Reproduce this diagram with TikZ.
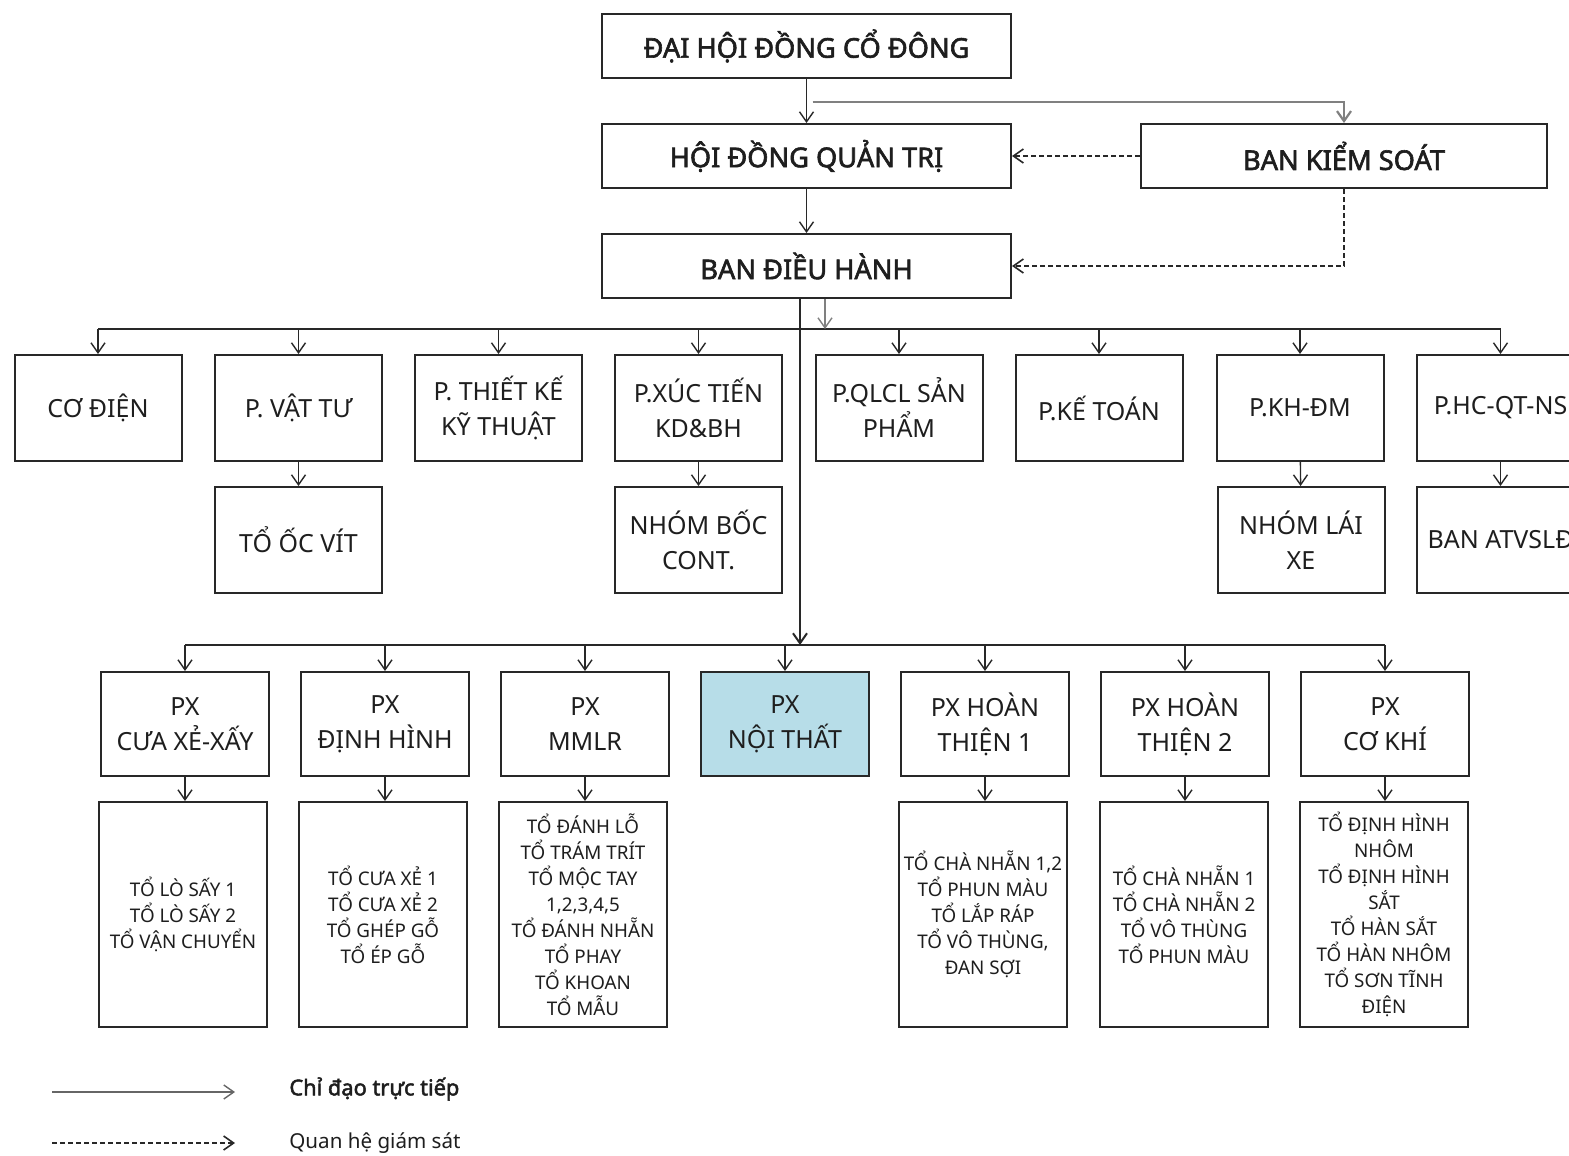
\documentclass[tikz,border=0pt]{standalone}
\usepackage{fontspec}
\setmainfont{Noto Sans}[BoldFont={Noto Sans}, BoldFeatures={FakeBold=2.2}]
\usetikzlibrary{arrows.meta}
\definecolor{ln}{RGB}{40,40,40}
\definecolor{nt}{RGB}{183,221,232}
\definecolor{tx}{RGB}{30,30,30}
\begin{document}
\begin{tikzpicture}[x=0.5pt,y=-0.5pt,
  box/.style={draw=ln, line width=1pt, align=center, inner sep=0pt, text=tx, font=\fontsize{12.5}{17.5}\selectfont},
  topbox/.style={box, minimum width=204.5pt, minimum height=32pt, font=\bfseries\fontsize{13.6}{17.5}\selectfont},
  dept/.style={box, minimum width=83.5pt, minimum height=53pt},
  pxbox/.style={box, minimum width=84pt, minimum height=52pt},
  team/.style={box, minimum width=84pt, minimum height=112.5pt, font=\fontsize{9.4}{13}\selectfont},
  arr/.style={draw=ln, line width=0.7pt, -{Straight Barb[length=5pt,width=7pt]}},
  sup/.style={draw=ln, line width=0.8pt, dash pattern=on 2.5pt off 1.5pt, -{Straight Barb[length=5pt,width=7pt]}},
  bus/.style={draw=ln, line width=1.3pt},
  legtext/.style={anchor=west, inner sep=0pt, text=tx, font=\fontsize{10.3}{13}\selectfont}
]
\clip (0,0) rectangle (1569,1156);
\fill[white] (0,0) rectangle (1569,1156);

% top level
\node[topbox] (dh) at (806.5,46) {ĐẠI HỘI ĐỒNG CỔ ĐÔNG};
\node[topbox] (hd) at (806.5,156) {HỘI ĐỒNG QUẢN TRỊ};
\node[topbox] (bdh) at (806.5,266) {BAN ĐIỀU HÀNH};
\node[topbox, minimum width=203pt] (bks) at (1344,156) {BAN KIỂM SOÁT};

\draw[arr] (dh) -- (hd);
\draw[arr] (hd) -- (bdh);
\draw[arr, draw=gray, line width=1.1pt] ([shift={(6,23)}]dh.south) -| (bks.north);
\draw[sup] (bks.west) -- (hd.east);
\draw[sup] (bks.south) |- (bdh.east);

% departments
\coordinate (bus1y) at (0,329);
\coordinate (bus2y) at (0,645);
\node[dept] (d1) at (98,408) {CƠ ĐIỆN};
\node[dept] (d2) at (298.5,408) {P. VẬT TƯ};
\node[dept] (d3) at (498.5,408) {P. THIẾT KẾ\\KỸ THUẬT};
\node[dept] (d4) at (698.5,408) {P.XÚC TIẾN\\KD\&BH};
\node[dept] (d5) at (899,408) {P.QLCL SẢN\\PHẨM};
\node[dept] (d6) at (1099,408) {P.KẾ TOÁN};
\node[dept] (d7) at (1300,408) {P.KH-ĐM};
\node[dept] (d8) at (1500.5,408) {P.HC-QT-NS};

\node[dept] (s2) at (298.5,540) {TỔ ỐC VÍT};
\node[dept] (s4) at (698.5,540) {NHÓM BỐC\\CONT.};
\node[dept] (s7) at (1301,540) {NHÓM LÁI\\XE};
\node[dept] (s8) at (1500.5,540) {BAN ATVSLĐ};

\draw[bus] (d1.north |- bus1y) -- (d8.north |- bus1y);
\foreach \n in {d1,d2,d3,d4,d5,d6,d7,d8}
  \draw[arr] (\n.north |- bus1y) -- (\n.north);
\draw[arr] (d2) -- (s2);
\draw[arr] (d4) -- (s4);
\draw[arr] (d7) -- (s7);
\draw[arr] (d8) -- (s8);

\draw[arr, line width=1pt] ([xshift=-3.25pt]bdh.south) -- ([xshift=-3.25pt]bdh.south |- bus2y);
\draw[arr, draw=gray] ([xshift=9.25pt]bdh.south) -- ([xshift=9.25pt]bdh.south |- bus1y);

% workshops
\node[pxbox] (p1) at (185,724) {PX\\CƯA XẺ-XẤY};
\node[pxbox] (p2) at (385,724) {PX\\ĐỊNH HÌNH};
\node[pxbox] (p3) at (585,724) {PX\\MMLR};
\node[pxbox, fill=nt] (p4) at (785,724) {PX\\NỘI THẤT};
\node[pxbox] (p5) at (985,724) {PX HOÀN\\THIỆN 1};
\node[pxbox] (p6) at (1185,724) {PX HOÀN\\THIỆN 2};
\node[pxbox] (p7) at (1385,724) {PX\\CƠ KHÍ};

\draw[bus] (p1.north |- bus2y) -- (p7.north |- bus2y);
\foreach \n in {p1,p2,p3,p4,p5,p6,p7}
  \draw[arr] (\n.north |- bus2y) -- (\n.north);

\node[team] (t1) at (183,914.5) {TỔ LÒ SẤY 1\\TỔ LÒ SẤY 2\\TỔ VẬN CHUYỂN};
\node[team] (t2) at (383,914.5) {TỔ CƯA XẺ 1\\TỔ CƯA XẺ 2\\TỔ GHÉP GỖ\\TỔ ÉP GỖ};
\node[team] (t3) at (583,914.5) {TỔ ĐÁNH LỖ\\TỔ TRÁM TRÍT\\TỔ MỘC TAY\\1,2,3,4,5\\TỔ ĐÁNH NHẴN\\TỔ PHAY\\TỔ KHOAN\\TỔ MẪU};
\node[team] (t5) at (983,914.5) {TỔ CHÀ NHẴN 1,2\\TỔ PHUN MÀU\\TỔ LẮP RÁP\\TỔ VÔ THÙNG,\\ĐAN SỢI};
\node[team] (t6) at (1184,914.5) {TỔ CHÀ NHẴN 1\\TỔ CHÀ NHẴN 2\\TỔ VÔ THÙNG\\TỔ PHUN MÀU};
\node[team] (t7) at (1384,914.5) {TỔ ĐỊNH HÌNH\\NHÔM\\TỔ ĐỊNH HÌNH\\SẮT\\TỔ HÀN SẮT\\TỔ HÀN NHÔM\\TỔ SƠN TĨNH\\ĐIỆN};

\draw[arr] (p1) -- (p1 |- t1.north);
\draw[arr] (p2) -- (p2 |- t2.north);
\draw[arr] (p3) -- (p3 |- t3.north);
\draw[arr] (p5) -- (p5 |- t5.north);
\draw[arr] (p6) -- (p6 |- t6.north);
\draw[arr] (p7) -- (p7 |- t7.north);

% legend
\coordinate (la1) at (52,1092);
\coordinate (la2) at (235,1092);
\coordinate (lb1) at (52,1143);
\coordinate (lb2) at (235,1143);
\draw[arr, draw=gray!80!black] (la1) -- (la2);
\draw[sup] (lb1) -- (lb2);
\node[legtext, font=\bfseries\fontsize{10.9}{13}\selectfont] (lt1) at (289,1089) {Chỉ đạo trực tiếp};
\node[legtext] (lt2) at (289,1143) {Quan hệ giám sát};
\end{tikzpicture}
\end{document}
